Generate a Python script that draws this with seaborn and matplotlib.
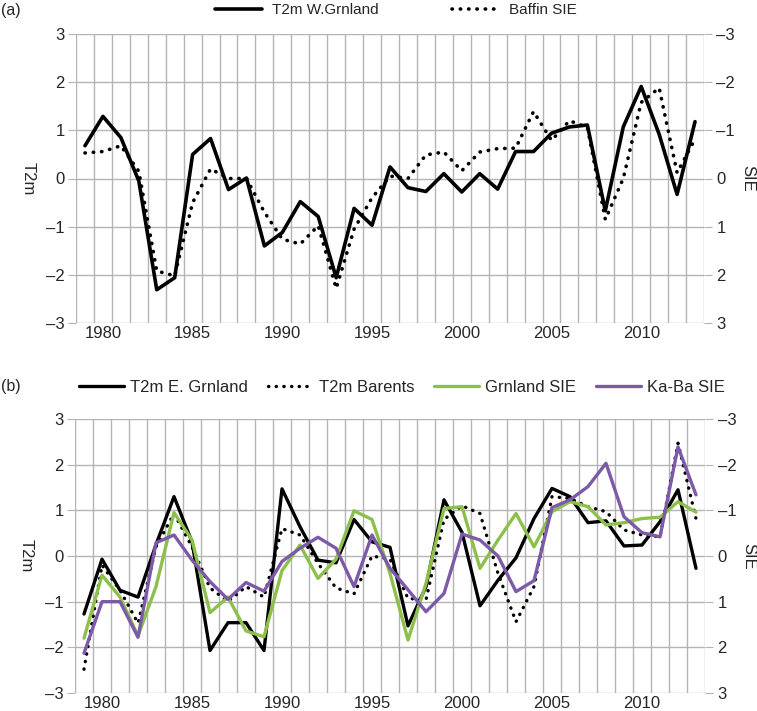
import numpy as np
import pandas as pd
import matplotlib
matplotlib.use("Agg")
import matplotlib.pyplot as plt
import seaborn as sns

years = list(range(1979, 2014))

# panel (a)
t2m_w_grnland = [0.68, 1.29, 0.85, -0.05, -2.31, -2.06, 0.50, 0.83, -0.23, 0.01,
                 -1.40, -1.12, -0.48, -0.79, -2.06, -0.62, -0.97, 0.24, -0.19, -0.27,
                 0.10, -0.28, 0.10, -0.22, 0.56, 0.56, 0.94, 1.07, 1.11, -0.67,
                 1.07, 1.91, 0.92, -0.33, 1.18]
# SIE on an inverted axis (-3 at top)
baffin_sie = [-0.53, -0.56, -0.68, -0.15, 1.92, 2.02, 0.50, -0.20, 0.00, 0.00,
              0.70, 1.26, 1.36, 0.98, 2.28, 1.05, 0.40, -0.05, 0.00, -0.49,
              -0.55, -0.16, -0.55, -0.62, -0.63, -1.39, -0.79, -1.20, -1.06, 0.85,
              0.00, -1.58, -1.88, -0.12, -0.82]

# panel (b)
t2m_e_grnland = [-1.27, -0.07, -0.75, -0.90, 0.25, 1.30, 0.31, -2.07, -1.46, -1.46,
                 -2.07, 1.47, 0.64, -0.09, -0.15, 0.80, 0.31, 0.19, -1.53, -0.67,
                 1.23, 0.52, -1.09, -0.53, -0.04, 0.82, 1.48, 1.30, 0.73, 0.77,
                 0.22, 0.24, 0.75, 1.45, -0.27]
t2m_barents = [-2.48, -0.20, -0.75, -1.47, 0.20, 0.93, 0.20, -0.70, -1.00, -0.67,
               -0.90, 0.60, 0.46, -0.16, -0.70, -0.83, 0.00, -0.07, -0.93, -0.96,
               0.80, 1.10, 0.93, -0.38, -1.44, -0.67, 1.30, 1.26, 1.08, 0.97,
               0.57, 0.46, 0.42, 2.47, 0.82]
grnland_sie = [1.80, 0.42, 0.90, 1.75, 0.67, -0.95, -0.35, 1.24, 0.90, 1.64,
               1.77, 0.32, -0.24, 0.49, 0.07, -0.99, -0.80, 0.38, 1.84, 0.60,
               -1.04, -1.08, 0.27, -0.35, -0.93, -0.20, -0.97, -1.19, -1.08, -0.68,
               -0.73, -0.82, -0.85, -1.19, -0.96]
kaba_sie = [2.13, 1.00, 1.00, 1.78, -0.29, -0.46, 0.09, 0.56, 0.95, 0.58,
            0.77, 0.12, -0.17, -0.41, -0.17, 0.67, -0.46, 0.27, 0.74, 1.22,
            0.82, -0.48, -0.35, 0.00, 0.78, 0.54, -1.06, -1.23, -1.52, -2.03,
            -0.86, -0.51, -0.42, -2.39, -1.34]

GREEN = "#8dc04b"
PURPLE = "#7c5aa8"
GRID = "#b4b4b4"
DOTS = (0, (0.1, 2.2))

sns.set_style("white")
plt.rcParams["font.family"] = ["Liberation Sans", "DejaVu Sans"]
plt.rcParams["font.size"] = 12

fig = plt.figure(figsize=(7.57, 7.11), dpi=100)
W, H = 757, 711


def tick_text(vals):
    return [str(v).replace("-", "\u2013") for v in vals]


def make_axes(left, right, top, bottom):
    ax = fig.add_axes([left / W, 1 - bottom / H, (right - left) / W, (bottom - top) / H])
    ax.set_xlim(1978.5, 2013.5)
    ax.set_ylim(-3, 3)
    ax.set_yticks(range(-3, 4))
    ax.set_yticklabels(tick_text(range(-3, 4)))
    ax.set_xticks(range(1980, 2014, 5))
    ax.set_xticks(np.arange(1978.5, 2014, 1), minor=True)
    ax.tick_params(axis="x", which="both", length=0, pad=2)
    ax.tick_params(axis="y", length=6, color=GRID, pad=2, left=True)
    ax.grid(True, axis="y", color=GRID, lw=1)
    ax.grid(True, axis="x", which="minor", color=GRID, lw=1)
    ax.set_axisbelow(True)
    for s in ax.spines.values():
        s.set_visible(False)

    ax2 = ax.twinx()
    ax2.set_ylim(3, -3)
    ax2.set_yticks(range(-3, 4))
    ax2.set_yticklabels(tick_text(range(-3, 4)))
    ax2.tick_params(axis="y", length=6, color=GRID, pad=3, right=True)
    for s in ax2.spines.values():
        s.set_visible(False)
    return ax, ax2


def finish_labels(ax, ax2):
    ax.set_xlabel("")
    ax.set_ylabel("T2m", rotation=270, va="center")
    ax.yaxis.set_label_coords(-0.077, 0.5)
    ax2.set_ylabel("SIE", rotation=270, va="center")
    ax2.yaxis.set_label_coords(1.07, 0.5)


# ---- panel (a)
ax_a, ax_a2 = make_axes(76, 704, 34, 323)
df_a = pd.DataFrame({"year": years, "t2m": t2m_w_grnland, "sie": baffin_sie})
sns.lineplot(data=df_a, x="year", y="t2m", ax=ax_a, color="black", lw=2.6,
             label="T2m W.Grnland", legend=False)
sns.lineplot(data=df_a, x="year", y="sie", ax=ax_a2, color="black", lw=2.6,
             linestyle=DOTS, dash_capstyle="round", label="Baffin SIE", legend=False)
finish_labels(ax_a, ax_a2)
h1, l1 = ax_a.get_legend_handles_labels()
h2, l2 = ax_a2.get_legend_handles_labels()
fig.legend(h1 + h2, l1 + l2, loc="center", bbox_to_anchor=(396 / W, 1 - 10 / H), ncol=2,
           frameon=False, handlelength=3.1, handletextpad=0.65, columnspacing=4.8, fontsize=11)
fig.text(1 / W, 1 - 10 / H, "(a)", fontsize=11.5, va="center")

# ---- panel (b)
ax_b, ax_b2 = make_axes(75, 705, 419, 693)
df_b = pd.DataFrame({"year": years, "t2m_e": t2m_e_grnland, "t2m_b": t2m_barents,
                     "grn": grnland_sie, "kaba": kaba_sie})
sns.lineplot(data=df_b, x="year", y="t2m_e", ax=ax_b, color="black", lw=2.4,
             label="T2m E. Grnland", legend=False)
sns.lineplot(data=df_b, x="year", y="t2m_b", ax=ax_b, color="black", lw=2.4,
             linestyle=DOTS, dash_capstyle="round", label="T2m Barents", legend=False)
sns.lineplot(data=df_b, x="year", y="grn", ax=ax_b2, color=GREEN, lw=2.4,
             label="Grnland SIE", legend=False)
sns.lineplot(data=df_b, x="year", y="kaba", ax=ax_b2, color=PURPLE, lw=2.4,
             label="Ka-Ba SIE", legend=False)
finish_labels(ax_b, ax_b2)
h1, l1 = ax_b.get_legend_handles_labels()
h2, l2 = ax_b2.get_legend_handles_labels()
fig.legend(h1 + h2, l1 + l2, loc="center", bbox_to_anchor=(402 / W, 1 - 387 / H), ncol=4,
           frameon=False, handlelength=2.7, handletextpad=0.36, columnspacing=1.2, fontsize=12)
fig.text(1 / W, 1 - 387 / H, "(b)", fontsize=11.5, va="center")

fig.savefig("out.png", dpi=100)
